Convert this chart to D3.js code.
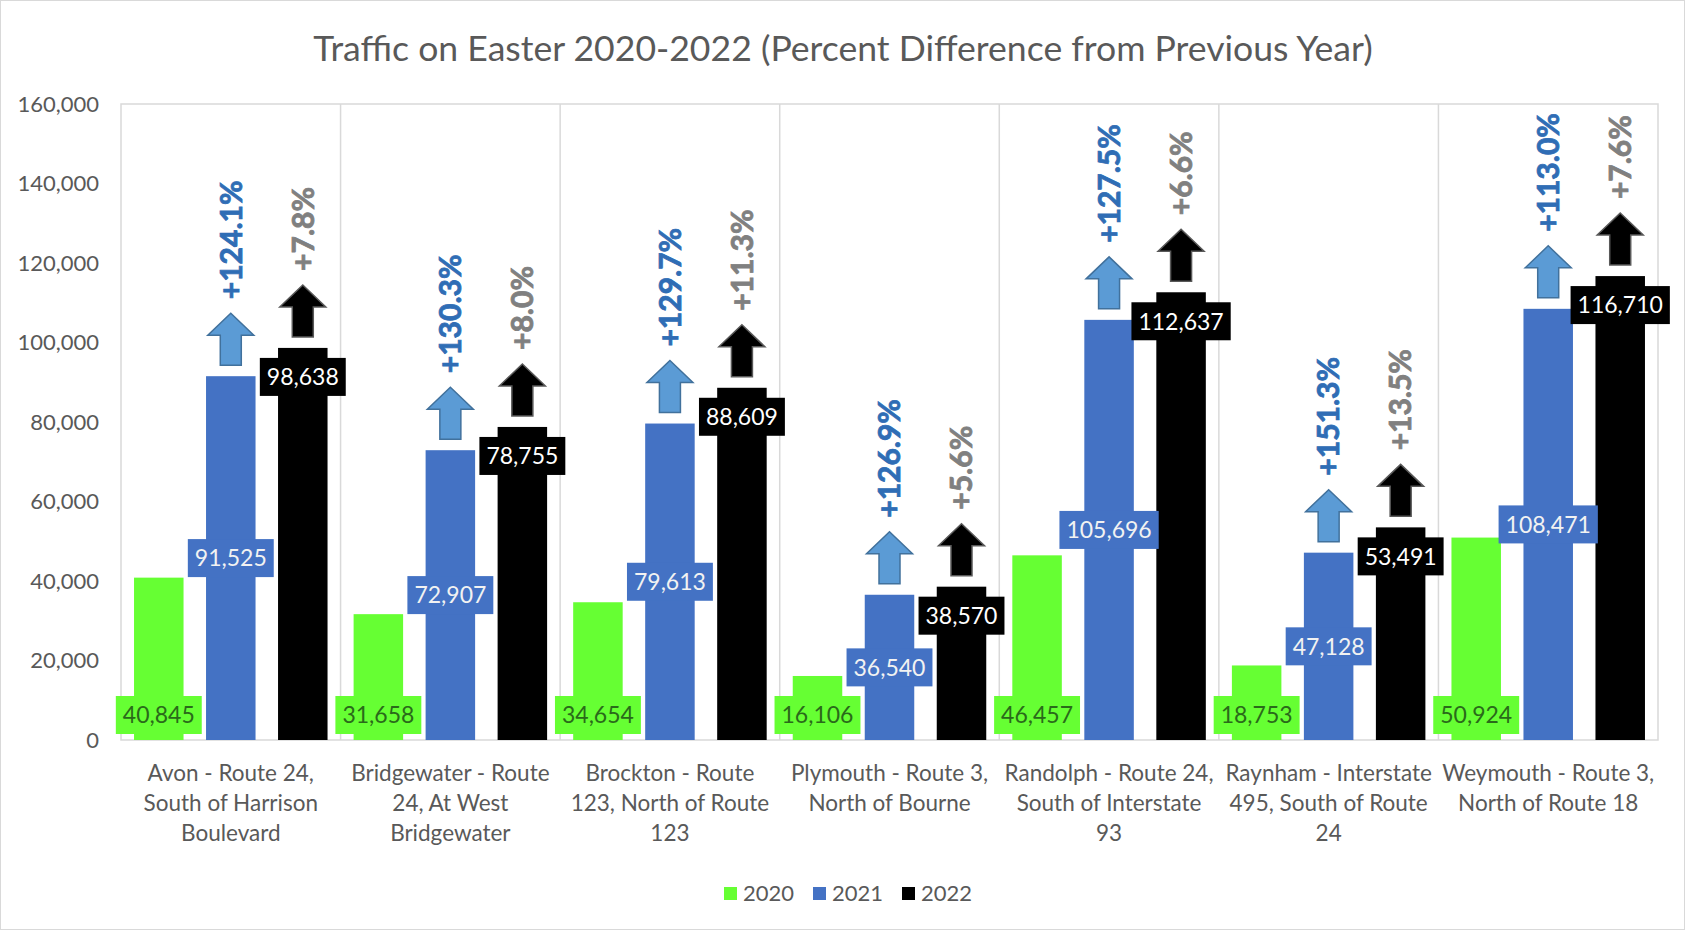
<!DOCTYPE html>
<html>
<head>
<meta charset="utf-8">
<script src="https://cdn.jsdelivr.net/npm/d3@7"></script>
<style>
  html, body { margin: 0; padding: 0; background: #fff; }
  svg { display: block; }
  text { font-family: Lato, "Open Sans", sans-serif; }
</style>
</head>
<body>
<svg id="chart" width="1685" height="930"></svg>
<script>
// ---- data ----
const title = "Traffic on Easter 2020-2022 (Percent Difference from Previous Year)";
const categories = [
  ["Avon - Route 24,", "South of Harrison", "Boulevard"],
  ["Bridgewater - Route", "24, At West", "Bridgewater"],
  ["Brockton - Route", "123, North of Route", "123"],
  ["Plymouth - Route 3,", "North of Bourne"],
  ["Randolph - Route 24,", "South of Interstate", "93"],
  ["Raynham - Interstate", "495, South of Route", "24"],
  ["Weymouth - Route 3,", "North of Route 18"]
];
const years = ["2020", "2021", "2022"];
const values2020 = [40845, 31658, 34654, 16106, 46457, 18753, 50924];
const values2021 = [91525, 72907, 79613, 36540, 105696, 47128, 108471];
const values2022 = [98638, 78755, 88609, 38570, 112637, 53491, 116710];
const change2021 = ["+124.1%", "+130.3%", "+129.7%", "+126.9%", "+127.5%", "+151.3%", "+113.0%"];
const change2022 = ["+7.8%", "+8.0%", "+11.3%", "+5.6%", "+6.6%", "+13.5%", "+7.6%"];
const yTicks = [0, 20000, 40000, 60000, 80000, 100000, 120000, 140000, 160000];

// ---- styles ----
const barColors = {"2020": "#66FF33", "2021": "#4472C4", "2022": "#000000"};
const labelText = {"2020": "#2A6A1A", "2021": "#F2F2F2", "2022": "#FFFFFF"};
const arrowFill = {"2021": "#5B9BD5", "2022": "#000000"};
const arrowStroke = {"2021": "#41719C", "2022": "#595959"};
const pctColor = {"2021": "#2F6DB5", "2022": "#808080"};
const axisText = "#595959";
const gridColor = "#D9D9D9";

const svg = d3.select("#chart");
const W = 1685, H = 930;
const plot = {left: 121, right: 1658, top: 104, bottom: 740};

const rows = categories.map((c, i) => ({
  i, lines: c,
  vals: {"2020": values2020[i], "2021": values2021[i], "2022": values2022[i]},
  pct: {"2021": change2021[i], "2022": change2022[i]}
}));

const x0 = d3.scaleBand().domain(d3.range(categories.length))
  .range([plot.left, plot.right]).paddingInner(0).paddingOuter(0);
const x1 = d3.scaleBand().domain(years).range([0, x0.bandwidth()])
  .paddingInner(0.3125).paddingOuter(0.181);
const y = d3.scaleLinear().domain([0, 160000]).range([plot.bottom, plot.top]);

// outer border
svg.append("rect").attr("x", 0.5).attr("y", 0.5).attr("width", W - 1).attr("height", H - 1)
  .attr("fill", "#fff").attr("stroke", gridColor);

// title (fit to target width)
const t = svg.append("text").attr("x", 843).attr("y", 61).attr("text-anchor", "middle")
  .attr("fill", axisText).style("font-size", "30px").text(title);
const tw = t.node().getComputedTextLength();
t.style("font-size", (30 * 1060 / tw) + "px");

// plot border & category grid
svg.append("rect").attr("x", plot.left).attr("y", plot.top)
  .attr("width", plot.right - plot.left).attr("height", plot.bottom - plot.top)
  .attr("fill", "none").attr("stroke", gridColor).attr("stroke-width", 1.5);
svg.append("g").selectAll("line").data(d3.range(1, categories.length)).join("line")
  .attr("x1", d => x0(d)).attr("x2", d => x0(d))
  .attr("y1", plot.top).attr("y2", plot.bottom)
  .attr("stroke", gridColor).attr("stroke-width", 1.5);

// y axis
const yAxis = d3.axisLeft(y).tickValues(yTicks).tickFormat(d3.format(",")).tickSize(0).tickPadding(22);
const yg = svg.append("g").attr("transform", `translate(${plot.left},0)`).call(yAxis);
yg.select(".domain").remove();
yg.selectAll("text").attr("fill", axisText).style("font-size", "22px")
  .style("font-family", "Lato, 'Open Sans', sans-serif");

// bars
const groups = svg.append("g").selectAll("g").data(rows).join("g")
  .attr("transform", d => `translate(${x0(d.i)},0)`);
groups.selectAll("rect").data(d => years.map(yr => ({yr, v: d.vals[yr]}))).join("rect")
  .attr("x", d => x1(d.yr)).attr("width", x1.bandwidth())
  .attr("y", d => y(d.v)).attr("height", d => y(0) - y(d.v))
  .attr("fill", d => barColors[d.yr]);

// arrows + percentage labels
const arrowH = 52, headH = 22, headHW = 23, shaftHW = 10.5, gapBar = 11;
["2021", "2022"].forEach(yr => {
  const ag = svg.append("g");
  rows.forEach(r => {
    const cx = x0(r.i) + x1(yr) + x1.bandwidth() / 2;
    const b = y(r.vals[yr]) - gapBar;
    const p = d3.path();
    p.moveTo(cx - shaftHW, b);
    p.lineTo(cx - shaftHW, b - (arrowH - headH));
    p.lineTo(cx - headHW, b - (arrowH - headH));
    p.lineTo(cx, b - arrowH);
    p.lineTo(cx + headHW, b - (arrowH - headH));
    p.lineTo(cx + shaftHW, b - (arrowH - headH));
    p.lineTo(cx + shaftHW, b);
    p.closePath();
    ag.append("path").attr("d", p.toString())
      .attr("fill", arrowFill[yr]).attr("stroke", arrowStroke[yr]).attr("stroke-width", 1.5);
    const ty = b - arrowH - 14;
    ag.append("text").attr("transform", `translate(${cx},${ty}) rotate(-90)`)
      .attr("dy", "0.36em").attr("text-anchor", "start")
      .attr("fill", pctColor[yr]).attr("stroke", pctColor[yr]).attr("stroke-width", 0.8)
      .style("font-size", "30px").style("font-weight", "bold")
      .text(r.pct[yr]);
  });
});

// data labels
const fmt = d3.format(",");
const boxH = 38;
const lg = svg.append("g");
years.forEach(yr => {
  rows.forEach(r => {
    const v = r.vals[yr];
    const cx = x0(r.i) + x1(yr) + x1.bandwidth() / 2;
    let cy;
    if (yr === "2020") cy = y(0) - 25;
    else if (yr === "2021") cy = (y(v) + y(0)) / 2;
    else cy = y(v) + 29;
    const g = lg.append("g");
    const rect = g.append("rect").attr("fill", barColors[yr]);
    const tx = g.append("text").attr("x", cx).attr("y", cy).attr("dy", "0.36em")
      .attr("text-anchor", "middle").attr("fill", labelText[yr])
      .style("font-size", "23px").text(fmt(v));
    const w = tx.node().getComputedTextLength() + 14;
    rect.attr("x", cx - w / 2).attr("y", cy - boxH / 2).attr("width", w).attr("height", boxH);
  });
});

// category labels
const cg = svg.append("g");
rows.forEach(r => {
  const cx = x0(r.i) + x0.bandwidth() / 2;
  r.lines.forEach((ln, k) => {
    cg.append("text").attr("x", cx).attr("y", 781 + k * 30).attr("text-anchor", "middle")
      .attr("fill", axisText).style("font-size", "22.5px").text(ln);
  });
});

// legend
const legX = [724, 813, 902];
const leg = svg.append("g");
years.forEach((yr, k) => {
  leg.append("rect").attr("x", legX[k]).attr("y", 887).attr("width", 13).attr("height", 13)
    .attr("fill", barColors[yr]);
  leg.append("text").attr("x", legX[k] + 19).attr("y", 901).attr("fill", axisText)
    .style("font-size", "22px").text(yr);
});
</script>
</body>
</html>
